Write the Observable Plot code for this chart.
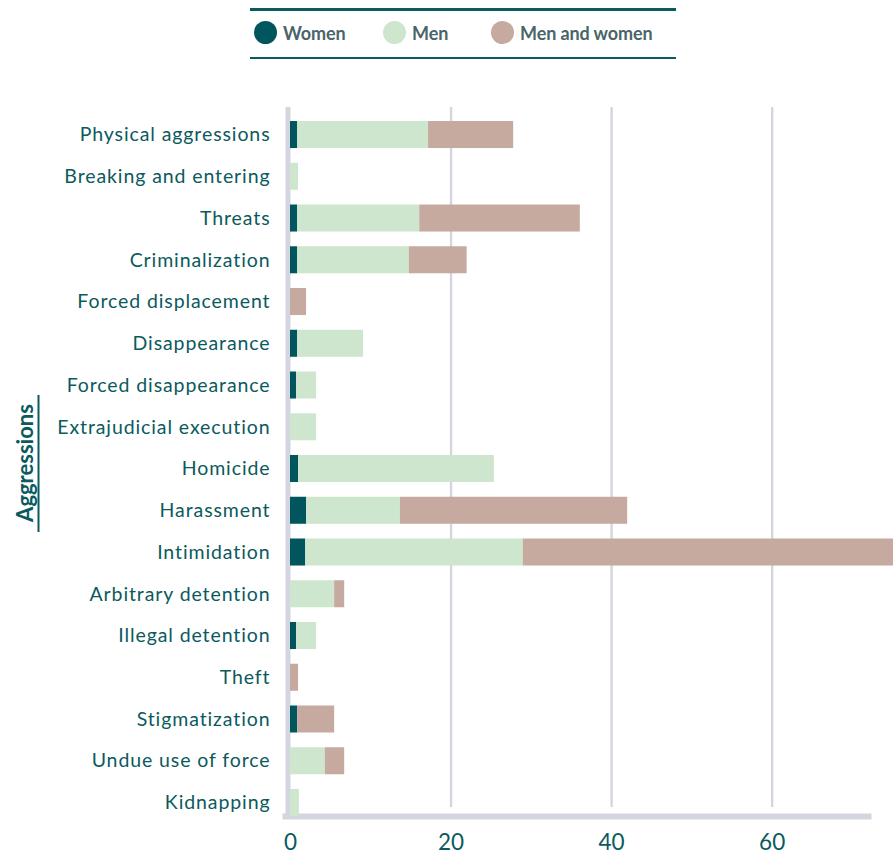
<!DOCTYPE html>
<html>
<head>
<meta charset="utf-8">
<script src="https://cdn.jsdelivr.net/npm/d3@7"></script>
<script src="https://cdn.jsdelivr.net/npm/@observablehq/plot@0.6"></script>
<style>
  body { margin: 0; background: #fff; width: 893px; height: 855px; overflow: hidden; font-family: Lato, "Noto Sans", sans-serif; }
  #legend { position: relative; width: 893px; height: 62px; }
  #legend .line { position: absolute; left: 250px; width: 426px; height: 2.5px; background: #0b5a5e; }
  #legend .item { position: absolute; top: 21px; display: flex; align-items: center; font-size: 18px; font-weight: 700; color: #4a6569; letter-spacing: -0.1px; }
  #legend .dot { width: 23px; height: 23px; border-radius: 50%; margin-right: 6px; }
  #chart svg { display: block; overflow: visible; }
  #chart svg g[aria-label="y-axis tick label"] text { letter-spacing: 0.9px; }
</style>
</head>
<body>
<div id="legend"></div>
<div id="chart"></div>
<script>
const categories = [
  "Physical aggressions", "Breaking and entering", "Threats", "Criminalization",
  "Forced displacement", "Disappearance", "Forced disappearance", "Extrajudicial execution",
  "Homicide", "Harassment", "Intimidation", "Arbitrary detention",
  "Illegal detention", "Theft", "Stigmatization", "Undue use of force", "Kidnapping"
];
const seriesNames = ["Women", "Men", "Men and women"];
const seriesColors = ["#01555d", "#cde6cd", "#c6a99f"];
const women      = [0.9, 0,   0.9, 0.9, 0,   0.9, 0.75, 0,    1.0, 2.0, 1.9, 0,    0.75, 0,   0.9, 0,    0];
const men        = [16.3, 1.0, 15.2, 13.9, 0, 8.2, 2.5,  3.25, 24.4, 11.7, 27.1, 5.5, 2.5, 0,   0,   4.35, 1.1];
const menAndWomen= [10.6, 0,   20.0, 7.2, 2.0, 0,  0,    0,    0,    28.3, 49.0, 1.25, 0,   1.0, 4.6, 2.4,  0];
const xTicks = [0, 20, 40, 60];
const axisTitle = "Aggressions";

const teal = "#0b5a5e";
const gray = "#d3d6df";

// legend
const legend = document.getElementById("legend");
legend.innerHTML = `<div class="line" style="top:8px"></div><div class="line" style="top:56.5px"></div>`;
const legendX = [254, 383, 491];
seriesNames.forEach((s, i) => {
  const d = document.createElement("div");
  d.className = "item";
  d.style.left = legendX[i] + "px";
  d.innerHTML = `<span class="dot" style="background:${seriesColors[i]}"></span><span>${s}</span>`;
  legend.appendChild(d);
});

const seriesValues = [women, men, menAndWomen];
const data = [];
seriesNames.forEach((s, si) => {
  categories.forEach((c, ci) => {
    data.push({category: c, series: s, value: seriesValues[si][ci]});
  });
});

const plot = Plot.plot({
  width: 893,
  height: 793,
  marginTop: 45,
  marginBottom: 39,
  marginLeft: 290,
  marginRight: 25,
  style: {fontFamily: "Lato, 'Noto Sans', sans-serif", color: teal, background: "transparent"},
  x: {domain: [0, 72], label: null},
  y: {domain: categories, paddingInner: 0.353, paddingOuter: 0.168, align: 1, round: false, label: null},
  color: {domain: seriesNames, range: seriesColors},
  marks: [
    Plot.gridX({ticks: [20, 40, 60], stroke: gray, strokeOpacity: 1, strokeWidth: 2.4, insetBottom: 9}),
    Plot.ruleX([0], {stroke: gray, strokeWidth: 5, dx: -2.5, insetBottom: -3}),
    Plot.frame({anchor: "bottom", stroke: gray, strokeWidth: 6, strokeOpacity: 1, insetLeft: -5}),
    Plot.barX(data, Plot.stackX({x: "value", y: "category", fill: "series", order: seriesNames})),
    Plot.axisX({ticks: xTicks, tickSize: 0, tickPadding: 18, fontSize: 22.5, fill: teal, label: null}),
    Plot.axisY({tickSize: 0, tickPadding: 20, fontSize: 19.5, fill: teal, label: null})
  ]
});
document.getElementById("chart").appendChild(plot);

// rotated axis title with underline
const svg = d3.select(plot);
svg.append("text")
  .attr("transform", "translate(33,401) rotate(-90)")
  .attr("text-anchor", "middle")
  .attr("fill", teal)
  .attr("font-weight", 700)
  .attr("font-size", 22)
  .attr("font-family", "Lato, 'Noto Sans', sans-serif")
  .text(axisTitle);
svg.append("line")
  .attr("x1", 38.5).attr("x2", 38.5)
  .attr("y1", 333).attr("y2", 470)
  .attr("stroke", teal).attr("stroke-width", 2);
</script>
</body>
</html>
